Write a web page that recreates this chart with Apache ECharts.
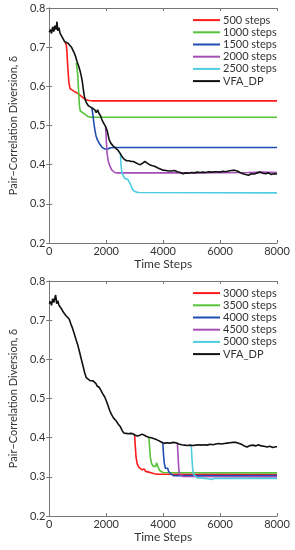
<!DOCTYPE html>
<html><head><meta charset="utf-8">
<script src="https://cdn.jsdelivr.net/npm/echarts@6/dist/echarts.min.js"></script>
<style>html,body{margin:0;padding:0;background:#fff}#c{width:295px;height:550px}</style>
</head><body><div id="c"></div>
<script>
// ---- data (time step, diversion) ----
const xTicks = [0, 2000, 4000, 6000, 8000];
const yTicks = [0.2, 0.3, 0.4, 0.5, 0.6, 0.7, 0.8];
const yName = 'Pair\u2212Correlation Diversion, \u03b4';
const xName = 'Time Steps';

const topNames = ['500 steps', '1000 steps', '1500 steps', '2000 steps', '2500 steps', 'VFA_DP'];
const botNames = ['3000 steps', '3500 steps', '4000 steps', '4500 steps', '5000 steps', 'VFA_DP'];
const colors = ['#ff1a1a', '#55c43a', '#1f4db0', '#a44fb5', '#4fcde0', '#111111'];

const topVFA = [[0,0.738],[40,0.745],[80,0.735],[120,0.752],[160,0.74],[200,0.755],[240,0.745],[270,0.765],[300,0.742],[340,0.75],[380,0.735],[420,0.738],[460,0.725],[500,0.72],[540,0.714],[600,0.712],[660,0.71],[720,0.706],[780,0.70],[830,0.695],[880,0.685],[930,0.675],[980,0.662],[1040,0.65],[1080,0.64],[1120,0.628],[1160,0.613],[1200,0.59],[1240,0.572],[1280,0.562],[1320,0.556],[1380,0.55],[1440,0.548],[1500,0.545],[1550,0.543],[1600,0.54],[1650,0.533],[1700,0.54],[1740,0.532],[1800,0.525],[1860,0.513],[1920,0.505],[1980,0.497],[2040,0.485],[2100,0.465],[2160,0.455],[2240,0.448],[2320,0.443],[2400,0.438],[2480,0.43],[2560,0.42],[2640,0.413],[2720,0.41],[2800,0.41],[2880,0.408],[2960,0.408],[3040,0.405],[3120,0.402],[3200,0.40],[3280,0.404],[3360,0.408],[3440,0.404],[3520,0.40],[3600,0.398],[3700,0.396],[3800,0.392],[3900,0.389],[4000,0.386],[4100,0.385],[4200,0.384],[4300,0.384],[4400,0.385],[4500,0.382],[4600,0.38],[4700,0.377],[4800,0.379],[4900,0.378],[5000,0.38],[5100,0.379],[5200,0.381],[5300,0.38],[5400,0.381],[5500,0.38],[5600,0.382],[5700,0.381],[5800,0.382],[5900,0.382],[6000,0.381],[6100,0.383],[6200,0.382],[6300,0.384],[6400,0.385],[6500,0.386],[6600,0.384],[6700,0.38],[6800,0.377],[6900,0.375],[7000,0.373],[7100,0.377],[7200,0.376],[7300,0.379],[7400,0.381],[7500,0.378],[7600,0.377],[7700,0.379],[7800,0.375],[7900,0.377],[8000,0.376]];
const s500 = [[560,0.712],[600,0.705],[620,0.69],[650,0.65],[690,0.61],[730,0.594],[800,0.59],[900,0.586],[1000,0.582],[1100,0.576],[1200,0.57],[1300,0.566],[1400,0.564],[1500,0.563],[8000,0.563]];
const s1000 = [[950,0.66],[1000,0.63],[1030,0.59],[1060,0.55],[1090,0.537],[1150,0.533],[1250,0.529],[1350,0.523],[1450,0.521],[8000,0.521]];
const s1500 = [[1490,0.546],[1520,0.535],[1560,0.51],[1600,0.49],[1640,0.474],[1700,0.462],[1780,0.452],[1860,0.444],[1950,0.44],[2000,0.438],[2060,0.44],[2150,0.443],[2300,0.444],[8000,0.444]];
const s2000 = [[1980,0.497],[2000,0.47],[2030,0.43],[2070,0.41],[2120,0.398],[2200,0.386],[2300,0.38],[2400,0.379],[3000,0.379],[5000,0.379],[7000,0.38],[7500,0.381],[8000,0.38]];
const s2500 = [[2500,0.428],[2520,0.40],[2550,0.378],[2600,0.372],[2650,0.365],[2700,0.362],[2750,0.363],[2800,0.357],[2850,0.35],[2900,0.341],[2960,0.334],[3050,0.33],[3150,0.329],[8000,0.328]];

const botVFA = [[0,0.742],[40,0.748],[80,0.738],[120,0.755],[160,0.745],[200,0.758],[225,0.764],[260,0.742],[300,0.75],[340,0.738],[400,0.735],[440,0.728],[480,0.722],[520,0.717],[580,0.712],[640,0.708],[700,0.703],[760,0.69],[800,0.683],[850,0.672],[900,0.66],[950,0.648],[1000,0.637],[1060,0.62],[1120,0.602],[1180,0.585],[1240,0.567],[1300,0.553],[1360,0.548],[1420,0.546],[1480,0.548],[1540,0.545],[1600,0.544],[1640,0.538],[1680,0.532],[1720,0.536],[1760,0.528],[1820,0.52],[1880,0.512],[1940,0.505],[2000,0.495],[2060,0.483],[2120,0.47],[2180,0.46],[2260,0.45],[2340,0.444],[2420,0.435],[2500,0.428],[2560,0.418],[2620,0.412],[2700,0.411],[2780,0.41],[2860,0.411],[2940,0.41],[3020,0.406],[3100,0.404],[3180,0.406],[3260,0.409],[3340,0.406],[3420,0.403],[3500,0.401],[3580,0.4],[3660,0.398],[3740,0.396],[3820,0.393],[3900,0.39],[3980,0.387],[4060,0.386],[4150,0.387],[4250,0.386],[4350,0.388],[4450,0.387],[4550,0.384],[4650,0.382],[4750,0.381],[4850,0.38],[4950,0.381],[5050,0.38],[5150,0.381],[5250,0.382],[5350,0.381],[5450,0.382],[5550,0.381],[5650,0.383],[5750,0.382],[5850,0.384],[5950,0.385],[6050,0.384],[6150,0.385],[6250,0.386],[6350,0.387],[6450,0.388],[6550,0.388],[6650,0.386],[6750,0.383],[6850,0.379],[6950,0.376],[7050,0.38],[7150,0.381],[7250,0.379],[7350,0.382],[7450,0.379],[7550,0.378],[7650,0.376],[7750,0.378],[7850,0.375],[7950,0.377],[8000,0.377]];
const s3000 = [[3000,0.406],[3020,0.38],[3050,0.35],[3090,0.333],[3140,0.325],[3200,0.321],[3260,0.318],[3300,0.315],[3340,0.32],[3380,0.314],[3440,0.316],[3500,0.312],[3600,0.31],[3700,0.308],[3800,0.307],[8000,0.306]];
const s3500 = [[3500,0.401],[3520,0.38],[3550,0.35],[3590,0.335],[3640,0.328],[3700,0.327],[3740,0.326],[3770,0.336],[3800,0.332],[3840,0.322],[3880,0.316],[3940,0.312],[4000,0.311],[8000,0.31]];
const s4000 = [[3990,0.387],[4010,0.36],[4040,0.335],[4080,0.322],[4120,0.318],[4160,0.322],[4190,0.314],[4220,0.31],[4260,0.308],[4300,0.304],[4360,0.303],[4450,0.303],[8000,0.303]];
const s4500 = [[4500,0.387],[4520,0.36],[4550,0.32],[4580,0.306],[4630,0.302],[4700,0.301],[8000,0.300]];
const s5000 = [[4990,0.378],[5010,0.35],[5040,0.318],[5080,0.305],[5140,0.3],[5200,0.297],[5260,0.295],[5320,0.298],[5380,0.294],[5450,0.296],[5520,0.294],[5600,0.295],[5700,0.293],[5800,0.296],[8000,0.296]];

const topData = [s500, s1000, s1500, s2000, s2500, topVFA];
const botData = [s3000, s3500, s4000, s4500, s5000, botVFA];

// ---- chart ----
const FONT = 'Lato';
const axisCol = '#777';
const txtCol = '#333';
const grids = [
  {left: 41, top: 8, width: 236, height: 235},
  {left: 42, top: 281, width: 235, height: 235}
];
const xAxes = [], yAxes = [], series = [], legends = [];
grids.forEach((g, gi) => {
  xAxes.push({
    type: 'value', gridIndex: gi, min: xTicks[0], max: xTicks[xTicks.length-1], interval: 2000,
    name: xName, nameLocation: 'middle', nameGap: 15,
    nameTextStyle: {fontFamily: FONT, fontSize: 12, color: txtCol},
    axisLine: {show: true, lineStyle: {color: axisCol, width: 1}},
    axisTick: {show: true, inside: true, length: 3, lineStyle: {color: axisCol}},
    axisLabel: {fontFamily: FONT, fontSize: 11, color: txtCol, margin: 3, formatter: v => String(v)},
    splitLine: {show: false}
  });
  xAxes.push({
    type: 'value', gridIndex: gi, position: 'top', min: xTicks[0], max: xTicks[xTicks.length-1], interval: 2000,
    axisLine: {show: true, lineStyle: {color: axisCol, width: 1}},
    axisTick: {show: true, inside: true, length: 3, lineStyle: {color: axisCol}},
    axisLabel: {show: false}, splitLine: {show: false}
  });
  yAxes.push({
    type: 'value', gridIndex: gi, min: yTicks[0], max: yTicks[yTicks.length-1], interval: 0.1,
    name: yName, nameLocation: 'middle', nameGap: 20, nameRotate: 90,
    nameTextStyle: {fontFamily: FONT, fontSize: 11, color: txtCol},
    axisLine: {show: true, lineStyle: {color: axisCol, width: 1}},
    axisTick: {show: true, inside: true, length: 3, lineStyle: {color: axisCol}},
    axisLabel: {fontFamily: FONT, fontSize: 11, color: txtCol, margin: 4, formatter: v => v.toFixed(1)},
    splitLine: {show: false}
  });
  yAxes.push({
    type: 'value', gridIndex: gi, position: 'right', min: yTicks[0], max: yTicks[yTicks.length-1], interval: 0.1,
    axisLine: {show: true, lineStyle: {color: axisCol, width: 1}},
    axisTick: {show: true, inside: true, length: 3, lineStyle: {color: axisCol}},
    axisLabel: {show: false}, splitLine: {show: false}
  });
  const names = gi === 0 ? topNames : botNames;
  const datas = gi === 0 ? topData : botData;
  names.forEach((n, i) => {
    series.push({
      type: 'line', name: n, xAxisIndex: gi * 2, yAxisIndex: gi * 2,
      data: datas[i], showSymbol: false, symbol: 'none', animation: false,
      lineStyle: {color: colors[i], width: 1.6}, itemStyle: {color: colors[i]},
      z: i === 5 ? 5 : 3
    });
  });
  legends.push({
    orient: 'vertical', left: 193, top: g.top + 6,
    data: names.map(n => ({name: n, icon: 'rect'})),
    itemWidth: 27, itemHeight: 2, itemGap: 0, padding: 0,
    textStyle: {fontFamily: FONT, fontSize: 11, color: txtCol, lineHeight: 12.2, padding: [0,0,0,-2]},
    selectedMode: false
  });
});
const chart = echarts.init(document.getElementById('c'), null, {renderer: 'canvas'});
chart.setOption({
  animation: false,
  backgroundColor: '#fff',
  color: colors,
  grid: grids,
  xAxis: xAxes,
  yAxis: yAxes,
  legend: legends,
  series: series
});
</script></body></html>
